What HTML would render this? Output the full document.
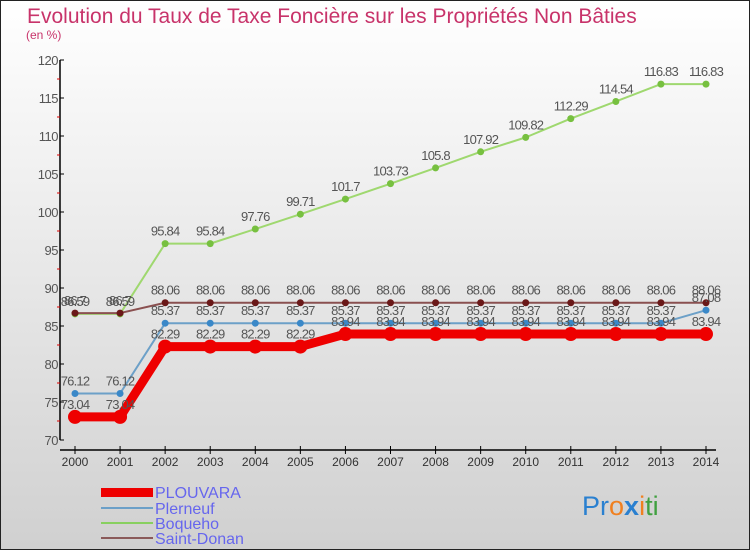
<!DOCTYPE html>
<html><head><meta charset="utf-8"><style>
body{margin:0;width:750px;height:550px;overflow:hidden;font-family:"Liberation Sans",sans-serif}
svg{display:block}
</style></head><body>
<svg id="c" width="750" height="550" xmlns="http://www.w3.org/2000/svg">
<defs><linearGradient id="bg" x1="0" y1="0" x2="0" y2="1"><stop offset="0" stop-color="#ffffff"/><stop offset="1" stop-color="#d0d0d0"/></linearGradient></defs>
<rect x="0.5" y="0.5" width="749" height="549" fill="url(#bg)" stroke="#222"/>
<text x="27" y="23" font-size="21" fill="#c8336a">Evolution du Taux de Taxe Foncière sur les Propriétés Non Bâties</text>
<text x="26" y="39" font-size="12" fill="#c8336a">(en %)</text>
<g id="axes"></g><g id="series"></g>
<g>
<rect x="101" y="488" width="52" height="9" fill="#ee0000"/>
<text x="155" y="498" font-size="16" fill="#6666ee">PLOUVARA</text>
<rect x="101" y="507" width="52" height="2" fill="#6ca0c8"/>
<text x="155" y="514" font-size="16" fill="#6666ee">Plerneuf</text>
<rect x="101" y="522" width="52" height="2" fill="#88d060"/>
<text x="155" y="529" font-size="16" fill="#6666ee">Boqueho</text>
<rect x="101" y="537" width="52" height="2" fill="#8a5a5a"/>
<text x="155" y="544" font-size="16" fill="#6666ee">Saint-Donan</text>
</g>
<text x="582" y="515" font-size="27"><tspan fill="#2a80d0">Pr</tspan><tspan fill="#f08020">o</tspan><tspan fill="#2a80d0" font-weight="bold">x</tspan><tspan fill="#f08020">i</tspan><tspan fill="#40a040">ti</tspan></text>
</svg>
<script>
const years=[2000,2001,2002,2003,2004,2005,2006,2007,2008,2009,2010,2011,2012,2013,2014];
const yTicks=[70,75,80,85,90,95,100,105,110,115,120];
const plouvara=[73.04,73.04,82.29,82.29,82.29,82.29,83.94,83.94,83.94,83.94,83.94,83.94,83.94,83.94,83.94];
const plerneuf=[76.12,76.12,85.37,85.37,85.37,85.37,85.37,85.37,85.37,85.37,85.37,85.37,85.37,85.37,87.08];
const boqueho=[86.59,86.59,95.84,95.84,97.76,99.71,101.7,103.73,105.8,107.92,109.82,112.29,114.54,116.83,116.83];
const saintDonan=[86.7,86.7,88.06,88.06,88.06,88.06,88.06,88.06,88.06,88.06,88.06,88.06,88.06,88.06,88.06];
const NS="http://www.w3.org/2000/svg";
const X=i=>75+i*(706-75)/(years.length-1);
const Y=v=>440-(v-70)*(380/50);
function mk(tag,attrs,parent){const e=document.createElementNS(NS,tag);for(const k in attrs)e.setAttribute(k,attrs[k]);parent.appendChild(e);return e;}
const axes=document.getElementById('axes');
let yl=mk('line',{x1:60,y1:60,x2:60,y2:440,stroke:'#000','stroke-width':1.5},axes);


let xl=mk('line',{x1:60,y1:450,x2:716,y2:450,stroke:'#000','stroke-width':1.5},axes);


yTicks.forEach(v=>{
 mk('line',{x1:60,y1:Y(v),x2:64,y2:Y(v),stroke:'#000'},axes);
 if(v<120)mk('line',{x1:57,y1:Y(v+2.5),x2:60,y2:Y(v+2.5),stroke:'#d00'},axes);
 const t=mk('text',{x:58,y:Y(v)+5,'font-size':13,fill:'#555','text-anchor':'end','letter-spacing':'-0.5'},axes);
 t.textContent=v;
 
 
});
years.forEach((yr,i)=>{
 mk('line',{x1:X(i),y1:446,x2:X(i),y2:454,stroke:'#000'},axes);
 const t=mk('text',{x:X(i),y:466,'font-size':12,fill:'#333','text-anchor':'middle'},axes);
 t.textContent=yr;
 
 
});
const sg=document.getElementById('series');
function draw(name,vals,color,lw,r,dot){
 const g=mk('g',{},sg);
 
 
 const pl=mk('polyline',{points:vals.map((v,i)=>X(i)+','+Y(v)).join(' '),fill:'none',stroke:color,'stroke-width':lw,'stroke-linejoin':'round'},g);
 
 
 vals.forEach((v,i)=>{
  const c=mk('circle',{cx:X(i),cy:Y(v),r:r,fill:dot},g);
  
  
  const t=mk('text',{x:X(i),y:Y(v)-8,'font-size':13,fill:'#555','text-anchor':'middle','letter-spacing':'-0.8'},g);
  t.textContent=v;
  
  
 });
}
draw('boqueho',boqueho,'#9fd86f',2,3.5,'#77c040');
draw('saint-donan',saintDonan,'#8a5050',2,3.5,'#6a1818');
draw('plerneuf',plerneuf,'#6ca0c8',2,3.5,'#3a88c8');
draw('plouvara',plouvara,'#ee0000',9,7,'#ee0000');
</script>
</body></html>
